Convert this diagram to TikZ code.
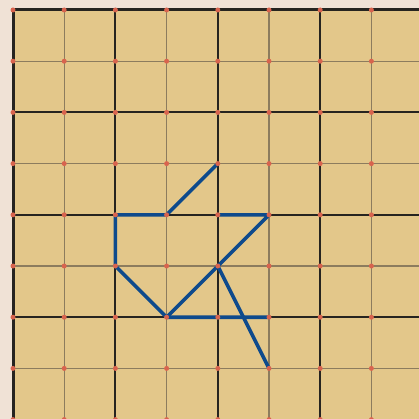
\documentclass[tikz,border=0pt]{standalone}
\definecolor{margin}{RGB}{240,226,214}
\definecolor{board}{RGB}{227,199,138}
\definecolor{thinline}{RGB}{140,124,94}
\definecolor{thickline}{RGB}{38,36,32}
\definecolor{dotred}{RGB}{216,100,78}
\definecolor{pathblue}{RGB}{14,74,140}
\tikzset{
  thingrid/.style={draw=thinline,line width=1.1pt},
  thickgrid/.style={draw=thickline,line width=2pt},
  borderline/.style={draw=thickline,line width=3pt},
  gridpt/.style={circle,fill=dotred,inner sep=0pt,minimum size=5pt},
  bluepath/.style={draw=pathblue,line width=3.6pt,line cap=round,line join=round}
}
\begin{document}
\begin{tikzpicture}[x=1pt,y=-1pt]
\useasboundingbox (0,0) rectangle (419,419);
\clip (0,0) rectangle (419,419);
\fill[margin] (0,0) rectangle (419,419);
\def\s{51.2}
\def\ox{13}
\def\oy{10}
\fill[board] (\ox,\oy) rectangle (430,430);
% thin lines
\foreach \i in {1,3,5,7}{
  \draw[thingrid] ({\ox+\i*\s},\oy) -- ({\ox+\i*\s},430);
  \draw[thingrid] (\ox,{\oy+\i*\s}) -- (430,{\oy+\i*\s});
}
% thick lines
\foreach \i in {2,4,6,8}{
  \draw[thickgrid] ({\ox+\i*\s},\oy) -- ({\ox+\i*\s},430);
  \draw[thickgrid] (\ox,{\oy+\i*\s}) -- (430,{\oy+\i*\s});
}
\draw[borderline] (\ox,430) -- (\ox,\oy) -- (430,\oy);
% named points of the figure
\foreach \c in {0,...,8}{
  \foreach \r in {0,...,8}{
    \coordinate (p\c-\r) at ({\ox+\c*\s},{\oy+\r*\s});
  }
}
% blue figure
\draw[bluepath] (p4-3) -- (p3-4) -- (p2-4) -- (p2-5) -- (p3-6) -- (p5-6);
\draw[bluepath] (p3-6) -- (p4-5) -- (p5-4) -- (p4-4);
\draw[bluepath] (p4-5) -- (p5-7);
% dots
\foreach \c in {0,...,8}{
  \foreach \r in {0,...,8}{
    \node[gridpt] (d\c-\r) at (p\c-\r) {};
  }
}
\end{tikzpicture}
\end{document}
